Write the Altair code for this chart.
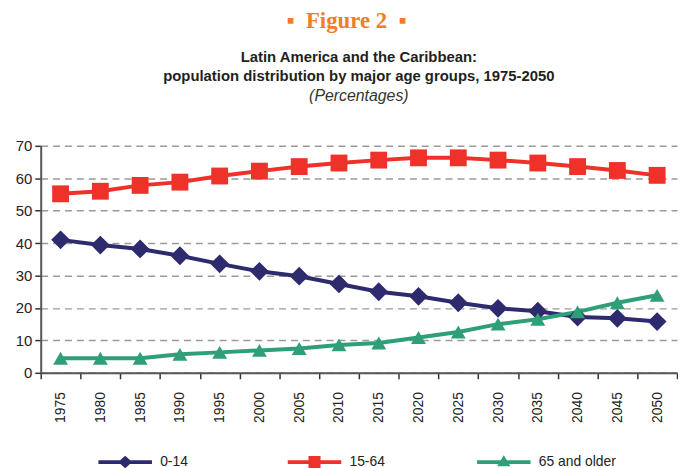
import altair as alt
import pandas as pd

years = [str(y) for y in range(1975, 2051, 5)]
age_0_14 = [41.0, 39.4, 38.2, 36.1, 33.6, 31.3, 29.8, 27.4, 25.0, 23.6, 21.6, 19.9, 19.0, 17.2, 16.8, 15.8]
age_15_64 = [55.2, 56.0, 57.8, 58.8, 60.7, 62.2, 63.6, 64.7, 65.6, 66.3, 66.3, 65.6, 64.7, 63.6, 62.4, 60.9]
age_65 = [4.5, 4.5, 4.5, 5.7, 6.3, 6.9, 7.5, 8.6, 9.2, 10.9, 12.6, 15.0, 16.5, 18.8, 21.6, 23.9]
series = ["0-14", "15-64", "65 and older"]
colors = ["#2E2A6E", "#EE3129", "#2F9F77"]
shapes = ["diamond", "square", "triangle-up"]
marker_sizes = [360, 289, 225]

rows = []
for name, vals in zip(series, [age_0_14, age_15_64, age_65]):
    for i, (yr, v) in enumerate(zip(years, vals)):
        rows.append({"year": yr, "value": v, "series": name, "order": i})
df = pd.DataFrame(rows)

FONT = "Liberation Sans"

# legend symbols: line segment + marker (unit r = sqrt(size)/2), all drawn clockwise
leg_r = 6.75
p_line = "M-4,-0.28L4,-0.28L4,0.28L-4,0.28Z"
p_diamond = p_line + "M-1.05,0L0,-0.95L1.05,0L0,0.95Z"
p_square = p_line + "M-0.9,-0.9L0.9,-0.9L0.9,0.9L-0.9,0.9Z"
p_tri = p_line + "M-1,0.65L0,-1.0L1,0.65Z"
legend_paths = [p_diamond, p_square, p_tri]

legend = alt.Legend(
    title=None,
    orient="none",
    legendX=58,
    legendY=312,
    direction="horizontal",
    columns=3,
    gridAlign="all",
    columnPadding=50,
    symbolSize=leg_r * leg_r * 4,
    symbolOffset=27 - leg_r,
    labelOffset=27 - leg_r + 8,
    symbolStrokeWidth=0,
    symbolOpacity=1,
    labelFont=FONT,
    labelFontSize=14,
    labelColor="#222222",
    padding=0,
)

x = alt.X(
    "year:O",
    sort=years,
    title=None,
    scale=alt.Scale(paddingInner=0, paddingOuter=0),
    axis=alt.Axis(
        labelAngle=-90,
        labelAlign="right",
        labelBaseline="middle",
        labelFont=FONT,
        labelFontSize=14,
        labelColor="#222222",
        labelPadding=13,
        tickBand="extent",
        tickSize=6,
        tickColor="#333333",
        tickWidth=1.5,
        domainColor="#555555",
        domainWidth=2,
        grid=False,
    ),
)
y = alt.Y(
    "value:Q",
    title=None,
    scale=alt.Scale(domain=[0, 70], nice=False, zero=True),
    axis=alt.Axis(
        values=[0, 10, 20, 30, 40, 50, 60, 70],
        labelFont=FONT,
        labelFontSize=15,
        labelColor="#222222",
        labelPadding=3,
        tickSize=6,
        tickColor="#333333",
        tickWidth=1.5,
        domainColor="#555555",
        domainWidth=2,
        grid=True,
        gridColor="#9A9A9A",
        gridWidth=1.5,
        gridDash=[7, 5],
    ),
)

base = alt.Chart(df)

line_layers = []
marker_layers = []
for name, col, shp, sz in zip(series, colors, shapes, marker_sizes):
    sub = base.transform_filter(alt.datum.series == name)
    line_layers.append(
        sub.mark_line(strokeWidth=4, color=col).encode(x=x, y=y, order="order:Q")
    )
    marker_layers.append(
        sub.mark_point(filled=True, opacity=1, shape=shp, size=sz, color=col).encode(x=x, y=y)
    )

legend_carrier = base.transform_filter("false").mark_point(filled=True, opacity=1).encode(
    x=x, y=y,
    color=alt.Color("series:N", scale=alt.Scale(domain=series, range=colors), legend=legend),
    shape=alt.Shape("series:N", scale=alt.Scale(domain=series, range=legend_paths), legend=legend),
)

main = alt.layer(*line_layers, *marker_layers, legend_carrier).properties(
    width=642,
    height=229,
    title=alt.Title(
        text=["Latin America and the Caribbean:", "population distribution by major age groups, 1975-2050"],
        font=FONT,
        fontSize=15,
        fontWeight="bold",
        color="#231F20",
        lineHeight=20,
        anchor="middle",
        subtitle="(Percentages)",
        subtitleFont=FONT,
        subtitleFontSize=16,
        subtitleFontStyle="italic",
        subtitleColor="#333333",
        subtitlePadding=4,
        offset=35,
    ),
)

chart = alt.vconcat(main).properties(
    title=alt.Title(
        text="\u25aa\u2002Figure 2\u2002\u25aa",
        font="Liberation Serif",
        fontSize=23,
        fontWeight="bold",
        color="#F07D2A",
        anchor="middle",
        offset=17,
    ),
    padding={"left": 7, "top": 0, "right": 0, "bottom": 0},
).configure_view(stroke=None)

chart.save("out.html", embed_options={"renderer": "svg", "actions": False})
